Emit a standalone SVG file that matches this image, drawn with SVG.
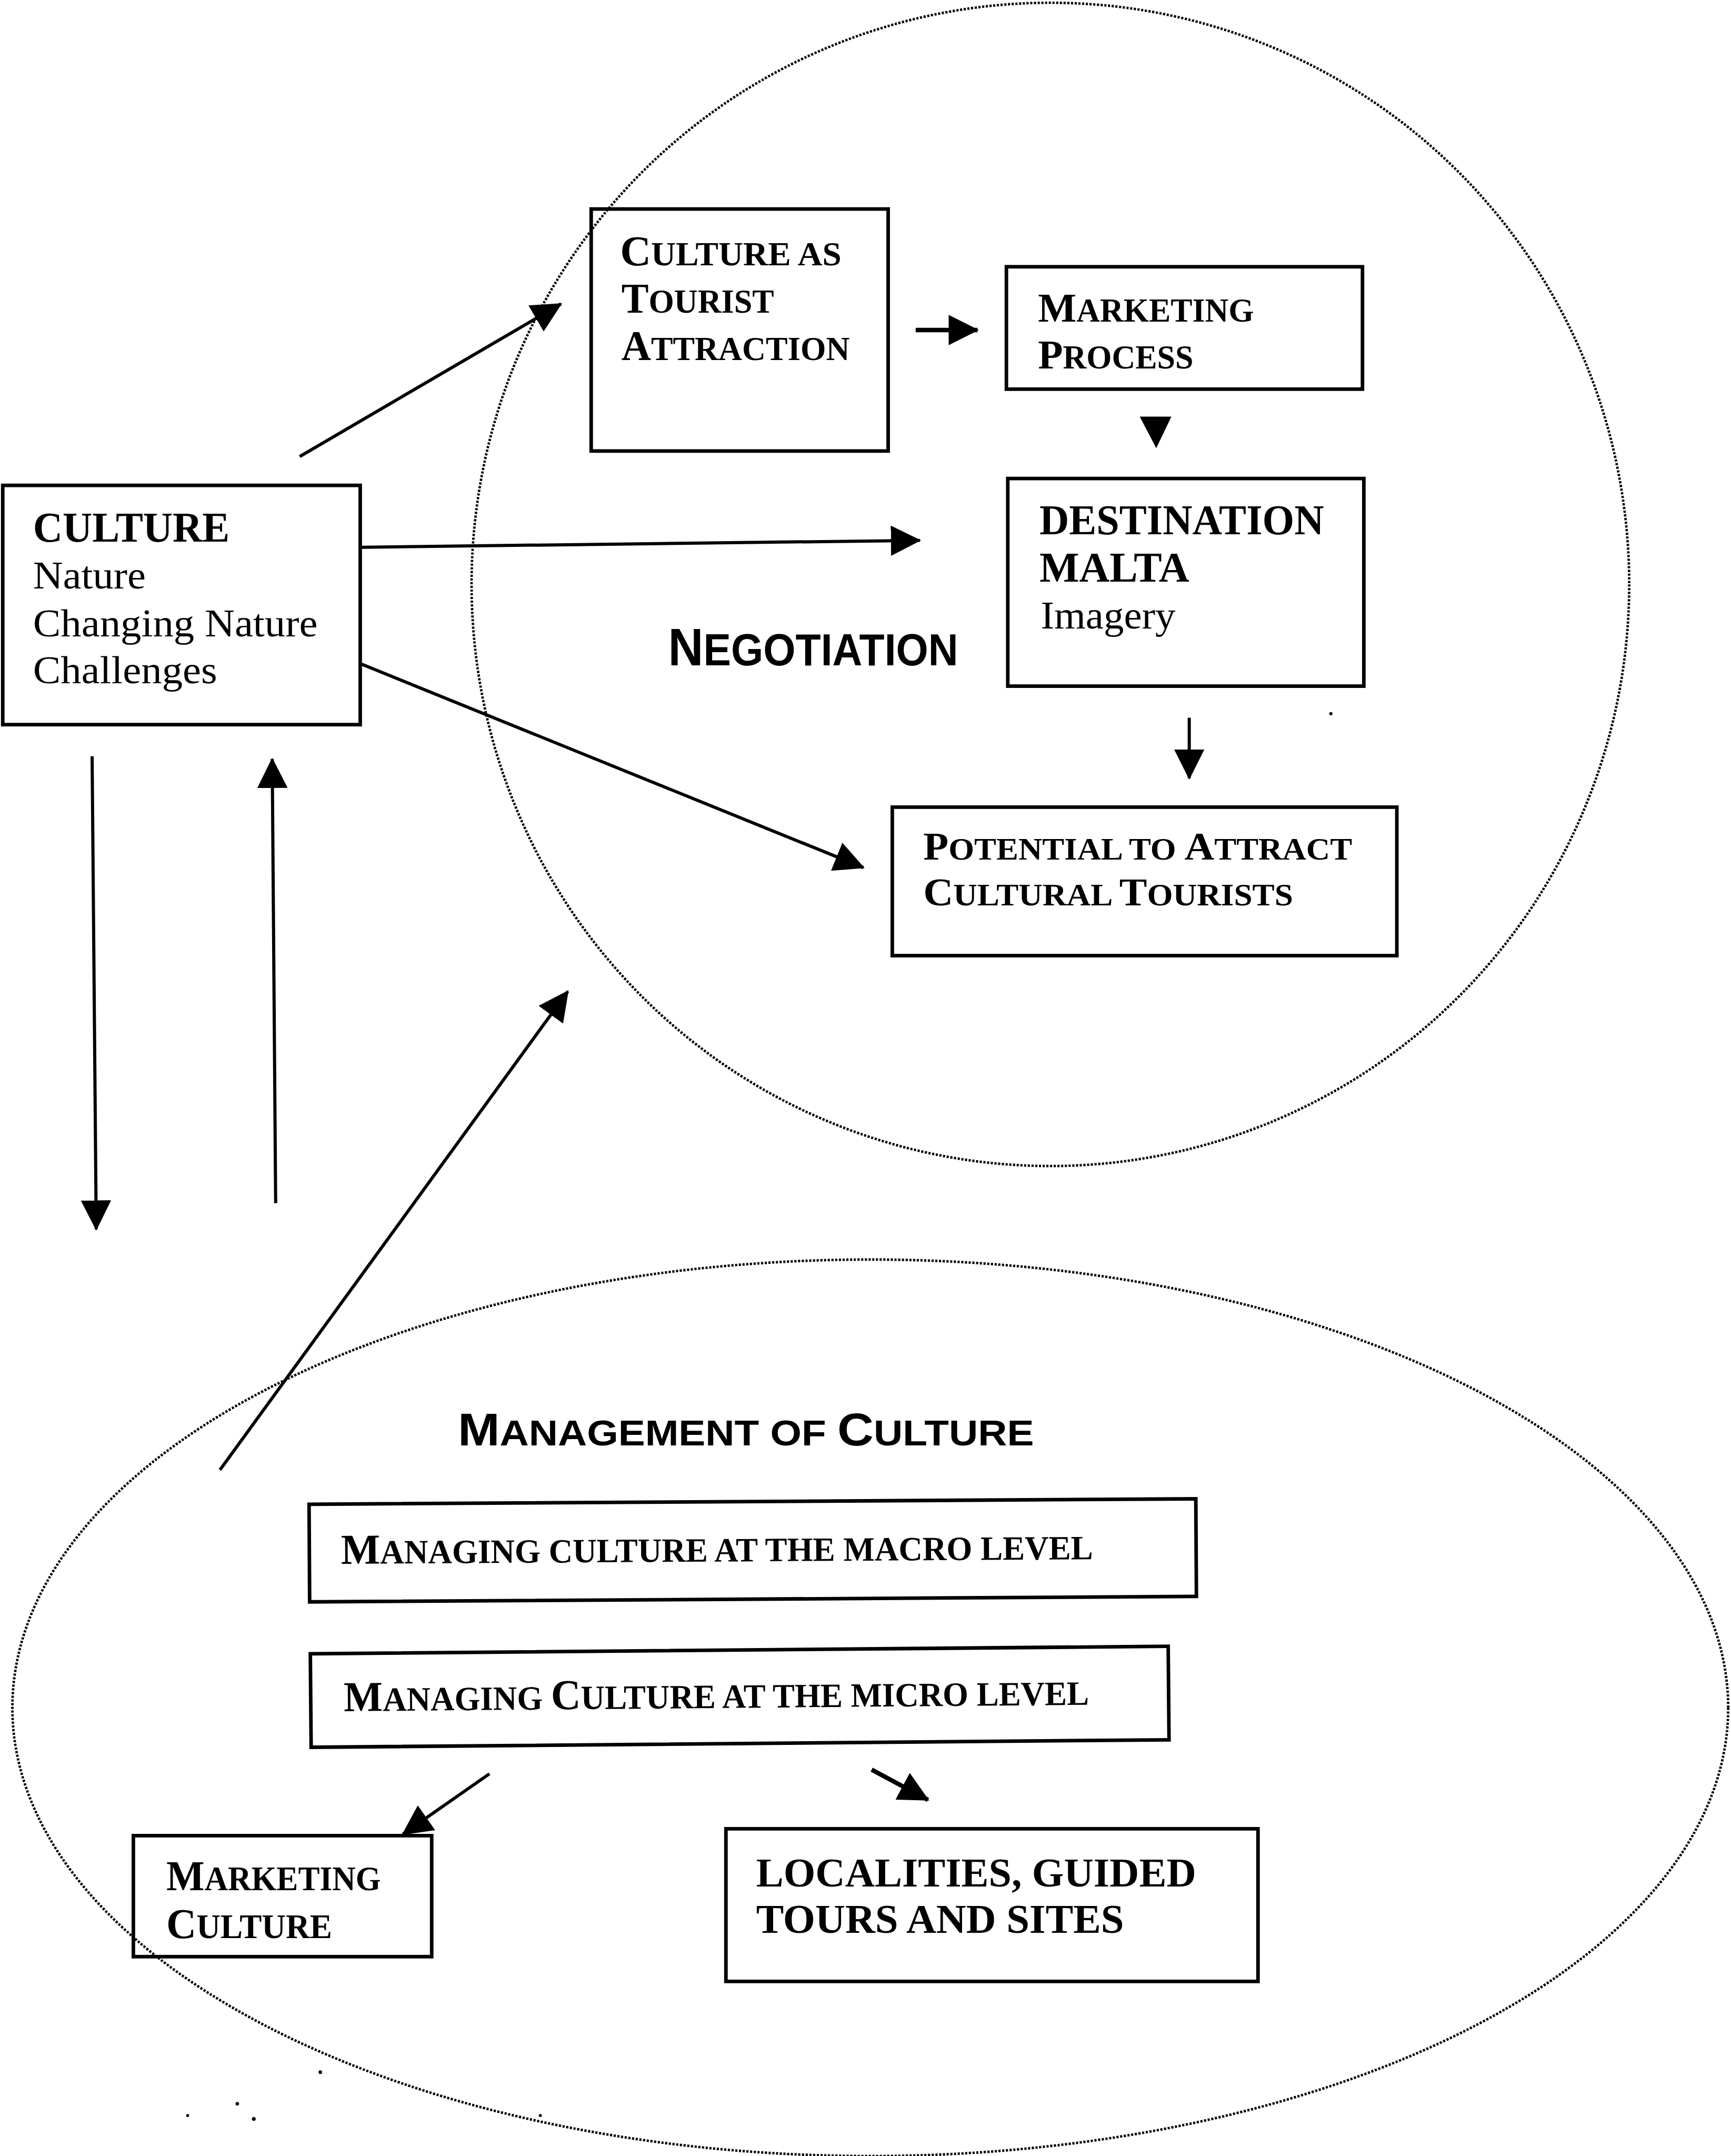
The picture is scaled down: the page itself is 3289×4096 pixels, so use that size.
<svg xmlns="http://www.w3.org/2000/svg" width="3289" height="4096" viewBox="0 0 3289 4096">
<style>
  .box{fill:none;stroke:#000;stroke-width:2.6}
  .ring{fill:none;stroke:#000;stroke-width:1.8;stroke-dasharray:1.6 1.1}
  .link{fill:none;stroke:#000;stroke-width:2.3;marker-end:url(#head)}
  .thick{stroke-width:3.2}
  .t{font-family:"Liberation Serif","Times New Roman",serif;font-weight:bold;fill:#000}
  .r{font-family:"Liberation Serif","Times New Roman",serif;font-weight:normal;fill:#000}
  .h{font-family:"Liberation Sans",Arial,sans-serif;font-weight:bold;fill:#000}
  .sc{font-size:0.8em}
  .sc2{font-size:0.85em}
</style>
<defs>
  <marker id="head" markerUnits="userSpaceOnUse" markerWidth="22" markerHeight="22" refX="21" refY="11" orient="auto" viewBox="0 0 22 22">
    <path d="M0,0 L22,11 L0,22 z" fill="#000"/>
  </marker>
</defs>
<rect width="3289" height="4096" fill="#fff"/>
<g transform="scale(2.6123)">
  <!-- dotted regions -->
  <g id="negotiation-region">
    <ellipse class="ring" cx="764" cy="425" rx="421" ry="423"/>
    <text class="h" x="486" y="484" font-size="38" textLength="211" lengthAdjust="spacingAndGlyphs">N<tspan class="sc2">EGOTIATION</tspan></text>
  </g>
  <g id="management-region">
    <ellipse class="ring" cx="633" cy="1242" rx="624" ry="326"/>
    <text class="h" x="333" y="1051" font-size="33" textLength="419" lengthAdjust="spacingAndGlyphs">M<tspan class="sc">ANAGEMENT OF </tspan>C<tspan class="sc">ULTURE</tspan></text>
  </g>

  <!-- nodes -->
  <g id="culture">
    <rect class="box" x="2" y="353" width="260" height="174"/>
    <text class="t" x="24" y="394" font-size="30.5" textLength="143" lengthAdjust="spacingAndGlyphs">CULTURE</text>
    <text class="r" x="24" y="428" font-size="28" textLength="82" lengthAdjust="spacingAndGlyphs">Nature</text>
    <text class="r" x="24" y="463" font-size="28" textLength="207" lengthAdjust="spacingAndGlyphs">Changing Nature</text>
    <text class="r" x="24" y="497" font-size="28" textLength="134" lengthAdjust="spacingAndGlyphs">Challenges</text>
  </g>
  <g id="tourist-attraction">
    <rect class="box" x="430" y="152" width="216" height="176"/>
    <text class="t" x="451" y="193" font-size="30.5" textLength="161" lengthAdjust="spacingAndGlyphs">C<tspan class="sc">ULTURE AS</tspan></text>
    <text class="t" x="452" y="227.5" font-size="30.5" textLength="111" lengthAdjust="spacingAndGlyphs">T<tspan class="sc">OURIST</tspan></text>
    <text class="t" x="452" y="262" font-size="30.5" textLength="166" lengthAdjust="spacingAndGlyphs">A<tspan class="sc">TTRACTION</tspan></text>
  </g>
  <g id="marketing-process">
    <rect class="box" x="732" y="194" width="259" height="89"/>
    <text class="t" x="755" y="234" font-size="30" textLength="157" lengthAdjust="spacingAndGlyphs">M<tspan class="sc">ARKETING</tspan></text>
    <text class="t" x="755" y="268" font-size="30" textLength="113" lengthAdjust="spacingAndGlyphs">P<tspan class="sc">ROCESS</tspan></text>
  </g>
  <g id="destination-malta">
    <rect class="box" x="733" y="348" width="259" height="151"/>
    <text class="t" x="756" y="388.5" font-size="30.5" textLength="207" lengthAdjust="spacingAndGlyphs">DESTINATION</text>
    <text class="t" x="756" y="423" font-size="30.5" textLength="109" lengthAdjust="spacingAndGlyphs">MALTA</text>
    <text class="r" x="757" y="457" font-size="28" textLength="98" lengthAdjust="spacingAndGlyphs">Imagery</text>
  </g>
  <g id="potential">
    <rect class="box" x="649" y="587" width="367" height="108"/>
    <text class="t" x="671.5" y="625" font-size="28" textLength="312" lengthAdjust="spacingAndGlyphs">P<tspan class="sc">OTENTIAL TO </tspan>A<tspan class="sc">TTRACT</tspan></text>
    <text class="t" x="671.5" y="658.5" font-size="28" textLength="269" lengthAdjust="spacingAndGlyphs">C<tspan class="sc">ULTURAL </tspan>T<tspan class="sc">OURISTS</tspan></text>
  </g>
  <g id="macro-level" transform="rotate(-0.35 547 1127)">
    <rect class="box" x="225" y="1092" width="645" height="71"/>
    <text class="t" x="248" y="1135.5" font-size="31" textLength="547" lengthAdjust="spacingAndGlyphs">M<tspan class="sc">ANAGING CULTURE AT THE MACRO LEVEL</tspan></text>
  </g>
  <g id="micro-level" transform="rotate(-0.5 538 1234)">
    <rect class="box" x="226" y="1200" width="624" height="68"/>
    <text class="t" x="250" y="1242" font-size="31" textLength="542" lengthAdjust="spacingAndGlyphs">M<tspan class="sc">ANAGING </tspan>C<tspan class="sc">ULTURE AT THE MICRO LEVEL</tspan></text>
  </g>
  <g id="marketing-culture">
    <rect class="box" x="97" y="1335" width="217" height="88"/>
    <text class="t" x="121" y="1374.5" font-size="31" textLength="156" lengthAdjust="spacingAndGlyphs">M<tspan class="sc">ARKETING</tspan></text>
    <text class="t" x="121" y="1409.5" font-size="31" textLength="120.5" lengthAdjust="spacingAndGlyphs">C<tspan class="sc">ULTURE</tspan></text>
  </g>
  <g id="localities">
    <rect class="box" x="528" y="1330" width="387" height="111"/>
    <text class="t" x="550" y="1372" font-size="30" textLength="320" lengthAdjust="spacingAndGlyphs">LOCALITIES, GUIDED</text>
    <text class="t" x="550" y="1405.5" font-size="30" textLength="267.5" lengthAdjust="spacingAndGlyphs">TOURS AND SITES</text>
  </g>

  <!-- connectors -->
  <g id="connectors">
    <path class="link" d="M218,332 L408,221"/>
    <path class="link" d="M263,398 L669,393"/>
    <path class="link" d="M263,483 L628,631"/>
    <path class="link thick" d="M666,240 L711,240"/>
    <polygon points="829,303 852,303 841,326" fill="#000"/>
    <path class="link" d="M865,522 L865,566"/>
    <path class="link" d="M67,550 L70,894"/>
    <path class="link" d="M200.5,875 L198,552"/>
    <path class="link" d="M160,1069 L413,721"/>
    <path class="link" d="M356,1290 L293,1334"/>
    <path class="link thick" d="M634,1287 L675,1309"/>
  </g>

  <!-- stray specks -->
  <g id="specks" fill="#000">
    <circle cx="968" cy="519" r="1.2"/>
    <circle cx="233" cy="1507" r="1.3"/>
    <circle cx="136.5" cy="1538.5" r="1.1"/>
    <circle cx="172.6" cy="1530" r="1.3"/>
    <circle cx="184.6" cy="1541" r="1.4"/>
    <circle cx="393" cy="1538.5" r="1.1"/>
  </g>
</g>
</svg>
